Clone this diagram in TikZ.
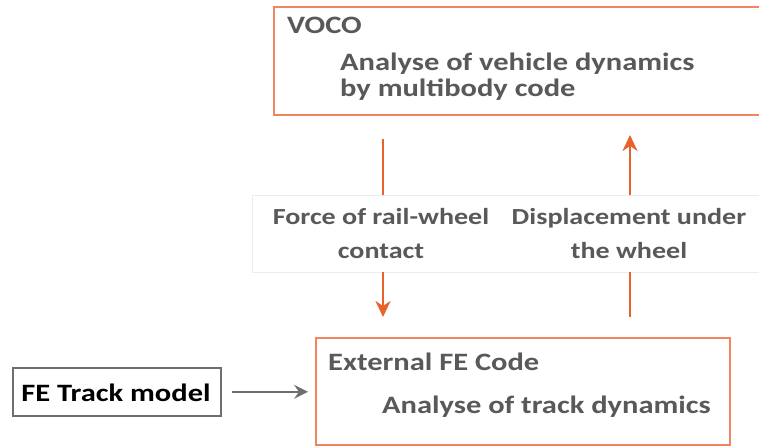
\documentclass[tikz,border=0pt]{standalone}
\usepackage{fontspec}
\setmainfont{Carlito}[FakeStretch=1.22]
\usetikzlibrary{arrows.meta}
\definecolor{txtgray}{HTML}{595959}
\definecolor{boxorange}{HTML}{F2845F}
\definecolor{arrorange}{HTML}{E8622C}
\definecolor{arrgray}{HTML}{6E6E6E}
\definecolor{bandgray}{HTML}{EDEDED}
\tikzset{
  obox/.style={draw=boxorange, line width=2pt, rectangle, inner sep=0pt},
  gbox/.style={draw=arrgray, line width=1.6pt, rectangle, inner sep=0pt},
  txt/.style={inner sep=0pt, anchor=base west, text=txtgray, font=\fontsize{25}{30}\selectfont\bfseries},
  lbl/.style={inner sep=0pt, align=center, text=txtgray, font=\fontsize{23}{34}\selectfont\bfseries},
  oline/.style={draw=arrorange, line width=2.5pt},
  oarrow/.style={oline, -{Stealth[length=16pt,width=15pt,inset=5pt]}},
  garrow/.style={draw=arrgray, line width=2pt, -{Stealth[length=14pt,width=14pt,inset=5pt]}},
}
\begin{document}
\begin{tikzpicture}[x=1pt,y=-1pt]
\useasboundingbox (0,0) rectangle (759,445);
\clip (0,0) rectangle (759,445);
\fill[white] (0,0) rectangle (759,445);
% label band
\draw[bandgray, line width=1pt] (252,195) rectangle (765,272);
% boxes
\node[obox, anchor=north west, minimum width=500pt, minimum height=108pt] (voco) at (273,6) {};
\node[obox, anchor=north west, minimum width=414pt, minimum height=107pt] (ext) at (315,337) {};
\node[gbox, anchor=north west, minimum width=208pt, minimum height=48pt] (fe) at (12,367) {};
% texts
\node[txt] (t1) at (287,33) {VOCO};
\node[txt] (t2) at (340,70) {Analyse of vehicle dynamics};
\node[txt] (t3) at (340,96) {by multibody code};
\node[txt] (t4) at (328,370) {External FE Code};
\node[txt] (t5) at (382,413) {Analyse of track dynamics};
\node[inner sep=0pt, anchor=base, font=\fontsize{25}{30}\selectfont\bfseries] (t6) at (116,401) {FE Track model};
\node[lbl] (f) at (381,234) {Force of rail-wheel\\contact};
\node[lbl] (d) at (629,234) {Displacement under\\the wheel};
% connectors
\draw[oline] (383,0 |- voco.south) ++(0,23) -- ++(0,56);
\draw[oarrow] (383,0 |- ext.north) ++(0,-65) -- ++(0,45);
\draw[oline] (630,0 |- ext.north) ++(0,-65) -- ++(0,45);
\draw[oarrow] (630,0 |- voco.south) ++(0,79) -- ++(0,-60);
\draw[garrow] ([xshift=10pt]fe.east) -- ([xshift=-7pt]ext.west |- fe.east);
\end{tikzpicture}
\end{document}
